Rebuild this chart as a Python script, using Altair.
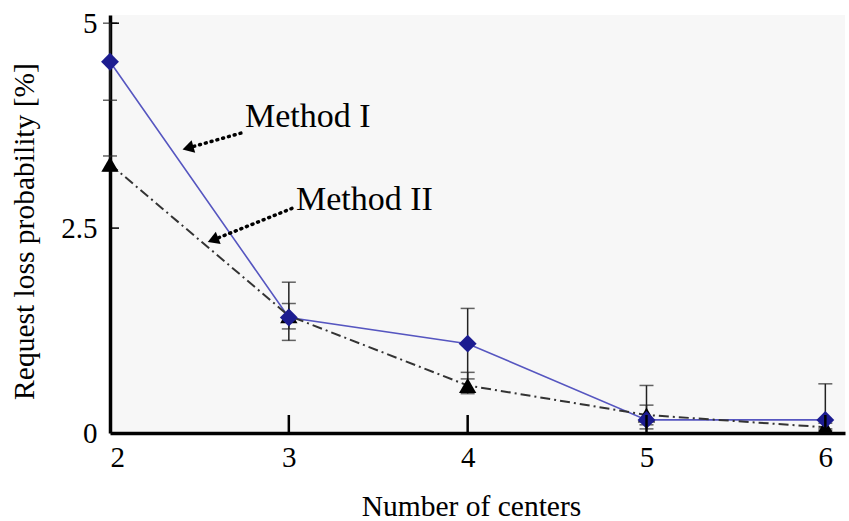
import altair as alt
import pandas as pd

centers = [2, 3, 4, 5, 6]
m1 = [4.53, 1.41, 1.09, 0.16, 0.16]
m1_lo = [4.06, 1.13, 0.66, 0.05, 0.05]
m1_hi = [5.00, 1.84, 1.52, 0.58, 0.60]
m2 = [3.28, 1.43, 0.58, 0.22, 0.07]
m2_lo = [3.20, 1.27, 0.48, 0.10, 0.03]
m2_hi = [3.38, 1.58, 0.74, 0.34, 0.12]

x_ticks = [3, 4, 5, 6]
y_ticks = [2.5, 5]

ann_text = ["Method I", "Method II"]
ann_tx = [2.755, 3.04]
ann_ty = [3.733, 2.72]
ann_x0 = [2.755, 3.023]
ann_y0 = [3.673, 2.745]
ann_x1 = [2.436, 2.576]
ann_y1 = [3.477, 2.355]
ann_angle = [254, 248]

FONT = "Liberation Serif"
W, H = 735, 418
xs = alt.Scale(domain=[2, 6.11], nice=False, zero=False)
ys = alt.Scale(domain=[0, 5.1], nice=False)

d1 = pd.DataFrame({"c": centers, "v": m1, "lo": m1_lo, "hi": m1_hi})
d2 = pd.DataFrame({"c": centers, "v": m2, "lo": m2_lo, "hi": m2_hi})

X = alt.X("c:Q", scale=xs, axis=alt.Axis(values=centers, format="d", title="Number of centers",
                                           titleX=361, titleY=82, titleBaseline="alphabetic",
                                           titleAnchor="start", titleAlign="center"))
Y = alt.Y("v:Q", scale=ys, axis=alt.Axis(values=[0, 2.5, 5], format="~g",
                                           title="Request loss probability [%]",
                                           titleX=-86, titleY=216, titleAngle=-90,
                                           titleBaseline="middle", titleAlign="center"))

def errs(d):
    base = alt.Chart(d)
    rule = base.mark_rule(color="#222", strokeWidth=1.5).encode(
        x=alt.X("c:Q", scale=xs), y=alt.Y("lo:Q", scale=ys), y2="hi:Q")
    cap_hi = base.mark_tick(color="#222", thickness=1.5, size=14, orient="horizontal").encode(
        x=alt.X("c:Q", scale=xs), y=alt.Y("hi:Q", scale=ys))
    cap_lo = base.mark_tick(color="#222", thickness=1.5, size=14, orient="horizontal").encode(
        x=alt.X("c:Q", scale=xs), y=alt.Y("lo:Q", scale=ys))
    return rule + cap_hi + cap_lo

line1 = alt.Chart(d1).mark_line(color="#5656c0", strokeWidth=1.6).encode(x=X, y=Y)
line2 = alt.Chart(d2).mark_line(color="#333", strokeWidth=2, strokeDash=[10, 4, 2, 4]).encode(
    x=alt.X("c:Q", scale=xs), y=alt.Y("v:Q", scale=ys))
pts1 = alt.Chart(d1).mark_point(shape="diamond", filled=True, size=320, color="#1c1c90", opacity=1).encode(
    x=alt.X("c:Q", scale=xs), y=alt.Y("v:Q", scale=ys))
pts2 = alt.Chart(d2).mark_point(shape="triangle-up", filled=True, size=300, color="#000", opacity=1).encode(
    x=alt.X("c:Q", scale=xs), y=alt.Y("v:Q", scale=ys))

# inward ticks
xt = alt.Chart(pd.DataFrame({"c": x_ticks, "z": [0] * len(x_ticks)})).mark_tick(
    color="#000", thickness=2.5, size=18, orient="vertical", yOffset=-9, opacity=1).encode(
    x=alt.X("c:Q", scale=xs), y=alt.Y("z:Q", scale=ys))
yt = alt.Chart(pd.DataFrame({"v": y_ticks, "z": [2] * len(y_ticks)})).mark_tick(
    color="#000", thickness=1.5, size=8, orient="horizontal", xOffset=5, opacity=1).encode(
    x=alt.X("z:Q", scale=xs), y=alt.Y("v:Q", scale=ys))

arrows = pd.DataFrame({"id": [0, 0, 1, 1],
                       "ax": [ann_x0[0], ann_x1[0], ann_x0[1], ann_x1[1]],
                       "ay": [ann_y0[0], ann_y1[0], ann_y0[1], ann_y1[1]]})
arr_lines = alt.Chart(arrows).mark_line(color="#000", strokeWidth=3.5, strokeDash=[1, 5],
                                        strokeCap="round").encode(
    x=alt.X("ax:Q", scale=xs), y=alt.Y("ay:Q", scale=ys), detail="id:N")
heads = pd.DataFrame({"hx": ann_x1, "hy": ann_y1, "ang": ann_angle})
arr_heads = alt.Chart(heads).mark_point(shape="triangle-up", filled=True, size=170, color="#000",
                                        opacity=1).encode(
    x=alt.X("hx:Q", scale=xs), y=alt.Y("hy:Q", scale=ys), angle=alt.Angle("ang:Q", scale=None))
txt = alt.Chart(pd.DataFrame({"t": ann_text, "tx": ann_tx, "ty": ann_ty})).mark_text(
    font=FONT, fontSize=34, color="#000", align="left", baseline="alphabetic").encode(
    x=alt.X("tx:Q", scale=xs), y=alt.Y("ty:Q", scale=ys), text="t:N")

chart = alt.layer(
    errs(d1), errs(d2), line1, line2, pts2, pts1, xt, yt, arr_lines, arr_heads, txt
).properties(
    width=W, height=H,
    autosize=alt.AutoSizeParams(type="none"),
    padding={"left": 110, "top": 15, "right": 4, "bottom": 88},
    background="white",
).configure_view(
    fill="#f7f7f7", stroke=None
).configure_axis(
    grid=False, ticks=False, domainColor="#000", domainWidth=3.5,
    labelFont=FONT, labelFontSize=29, labelColor="#000",
    titleFont=FONT, titleFontSize=29.5, titleColor="#000", titleFontWeight="normal",
).configure_axisX(labelPadding=10).configure_axisY(labelPadding=13)

chart.save("out.html", embed_options={"renderer": "svg", "actions": False})
